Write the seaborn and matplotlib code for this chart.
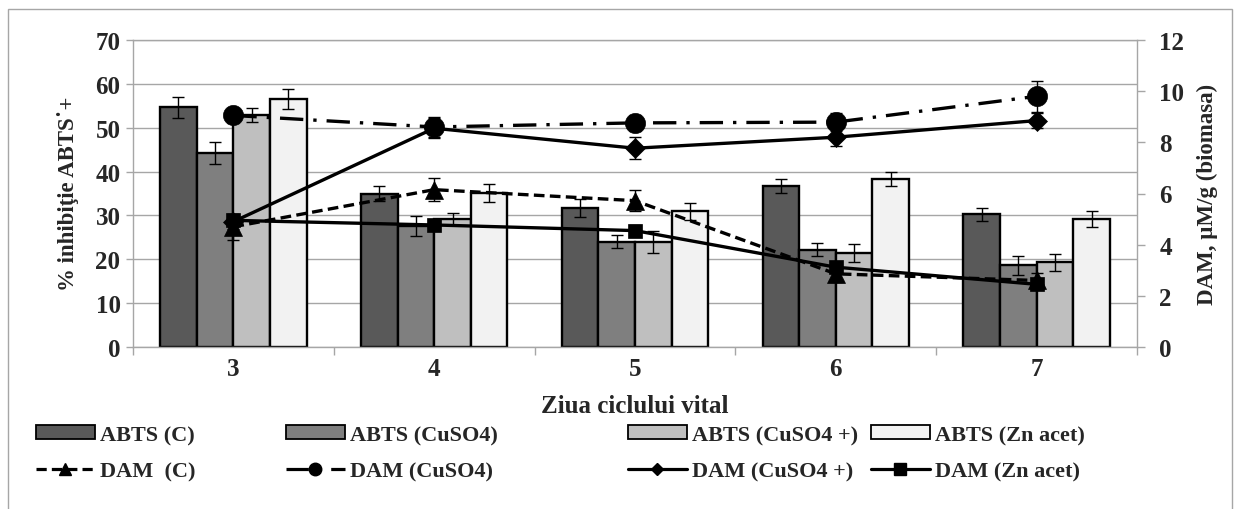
import numpy as np
import pandas as pd
import matplotlib
matplotlib.use("Agg")
import matplotlib.pyplot as plt
import seaborn as sns
from matplotlib.patches import Patch, Rectangle
from matplotlib.lines import Line2D

# ---- data -------------------------------------------------------------
days = ["3", "4", "5", "6", "7"]

abts_labels = ["ABTS (C)", "ABTS (CuSO4)", "ABTS (CuSO4 +)", "ABTS (Zn acet)"]
abts_c = [54.7, 34.9, 31.7, 36.8, 30.3]
abts_cuso4 = [44.2, 27.5, 24.0, 22.2, 18.6]
abts_cuso4p = [52.9, 29.2, 24.0, 21.4, 19.3]
abts_zn = [56.5, 35.1, 30.9, 38.3, 29.2]
abts_c_err = [2.4, 1.7, 2.1, 1.6, 1.5]
abts_cuso4_err = [2.5, 2.3, 1.5, 1.4, 2.1]
abts_cuso4p_err = [1.7, 1.3, 2.5, 2.0, 2.0]
abts_zn_err = [2.3, 2.1, 2.0, 1.7, 1.8]

dam_labels = ["DAM  (C)", "DAM (CuSO4)", "DAM (CuSO4 +)", "DAM (Zn acet)"]
dam_c = [4.7, 6.15, 5.72, 2.86, 2.6]
dam_cuso4 = [9.05, 8.6, 8.76, 8.79, 9.8]
dam_cuso4p = [4.9, 8.55, 7.77, 8.2, 8.85]
dam_zn = [4.95, 4.77, 4.55, 3.12, 2.45]
dam_c_err = [0.5, 0.45, 0.4, 0.3, 0.3]
dam_cuso4_err = [0.3, 0.4, 0.3, 0.35, 0.6]
dam_cuso4p_err = [0.3, 0.4, 0.44, 0.35, 0.3]
dam_zn_err = [0.2, 0.2, 0.2, 0.2, 0.2]

# ---- styling ----------------------------------------------------------
sns.set_theme(style="white")
SERIF = ["Liberation Serif", "DejaVu Serif"]
plt.rcParams["font.family"] = SERIF
plt.rcParams["font.weight"] = "bold"
TICK_FS = 18
LABEL_FS = 16.5
LEG_FS = 16
GRID = "#a6a6a6"

bar_colors = ["#595959", "#7f7f7f", "#bfbfbf", "#f2f2f2"]
line_styles = [(0, (3.2, 1.6)), (0, (7, 3, 1, 3)), "-", "-"]
line_markers = ["^", "o", "D", "s"]
line_msize = [13.5, 14.5, 10.5, 10]
legend_msize = [9, 9, 6.5, 9]

abts_vals = [abts_c, abts_cuso4, abts_cuso4p, abts_zn]
abts_errs = [abts_c_err, abts_cuso4_err, abts_cuso4p_err, abts_zn_err]
dam_vals = [dam_c, dam_cuso4, dam_cuso4p, dam_zn]
dam_errs = [dam_c_err, dam_cuso4_err, dam_cuso4p_err, dam_zn_err]

df = pd.DataFrame({
    "day": np.tile(days, len(abts_labels)),
    "series": np.repeat(abts_labels, len(days)),
    "value": np.concatenate(abts_vals),
})

fig = plt.figure(figsize=(12.35, 5.10), dpi=100)
ax = fig.add_axes([133 / 1235, 1 - 348 / 510, (1137 - 133) / 1235, (348 - 41) / 510])

# outer chart frame
fig.patches.append(Rectangle((8 / 1235, -0.2), (1232 - 8) / 1235, 1.2 - 10 / 510,
                             transform=fig.transFigure, fill=False,
                             edgecolor=GRID, linewidth=1.0, zorder=0))

sns.barplot(data=df, x="day", y="value", hue="series", order=days,
            hue_order=abts_labels, palette=bar_colors, saturation=1,
            width=0.73, edgecolor="black", linewidth=1.7, errorbar=None,
            legend=False, ax=ax)

for cont, err in zip(ax.containers, abts_errs):
    xs = [p.get_x() + p.get_width() / 2 for p in cont]
    ys = [p.get_height() for p in cont]
    ax.errorbar(xs, ys, yerr=err, fmt="none", ecolor="black",
                elinewidth=1.0, capsize=4.5, capthick=1.0, zorder=5)

ax.set_ylim(0, 70)
ax.set_yticks(np.arange(0, 71, 10))
ax.set_xlim(-0.5, len(days) - 0.5)
ax.set_axisbelow(True)
ax.yaxis.grid(True, color=GRID, linewidth=1.0)
for side in ["left", "bottom", "top", "right"]:
    ax.spines[side].set_color(GRID)
    ax.spines[side].set_linewidth(1.0)
ax.tick_params(axis="y", which="major", length=5, width=1, color=GRID,
               pad=4, labelsize=TICK_FS, left=True)
ax.set_xticks(np.arange(-0.5, len(days), 1.0), minor=True)
ax.tick_params(axis="x", which="minor", length=6, width=1, color=GRID, bottom=True)
ax.tick_params(axis="x", which="major", length=0, pad=7, labelsize=TICK_FS)
for lab in ax.get_xticklabels() + ax.get_yticklabels():
    lab.set_fontweight("bold")
    lab.set_fontfamily(SERIF)

ax.set_xlabel("Ziua ciclului vital", fontsize=TICK_FS, fontweight="bold", labelpad=10)
ax.set_ylabel("% inhibiţie ABTS˙+", fontsize=LABEL_FS, fontweight="bold")
ax.yaxis.set_label_coords(-0.0647, 0.503)
ax.yaxis.label.set_va("center")

# ---- DAM lines on the secondary axis ----------------------------------
ax2 = ax.twinx()
xpos = np.arange(len(days))
for vals, errs, ls, mk, ms in zip(dam_vals, dam_errs, line_styles,
                                  line_markers, line_msize):
    ax2.errorbar(xpos, vals, yerr=errs, fmt="none", ecolor="black",
                 elinewidth=1.0, capsize=4.5, capthick=1.0, zorder=3)
    sns.lineplot(x=xpos, y=vals, ax=ax2, color="black", linewidth=2.4,
                 linestyle=ls, marker=mk, markersize=ms,
                 markeredgecolor="black", markeredgewidth=0.5, zorder=4)

ax2.set_ylim(0, 12)
ax2.set_yticks(np.arange(0, 13, 2))
ax2.set_xlim(-0.5, len(days) - 0.5)
ax2.grid(False)
for side in ["left", "bottom", "top", "right"]:
    ax2.spines[side].set_visible(False)
ax2.tick_params(axis="y", length=6, width=1, color=GRID, pad=10,
                labelsize=TICK_FS, right=True)
for lab in ax2.get_yticklabels():
    lab.set_fontweight("bold")
    lab.set_fontfamily(SERIF)
ax2.set_xlabel("")
ax2.set_ylabel("DAM, µM/g (biomasa)", fontsize=LABEL_FS, fontweight="bold", rotation=90)
ax2.yaxis.set_label_coords(1.0697, 0.5)
ax2.yaxis.label.set_va("center")
ax2.yaxis.label.set_ha("center")

# ---- legend: four columns of (bar, line) ------------------------------
col_x = [36, 286, 628, 871]
for i in range(4):
    handles = [
        Patch(facecolor=bar_colors[i], edgecolor="black", linewidth=1.3),
        Line2D([], [], color="black", linewidth=2.3, linestyle=line_styles[i],
               marker=line_markers[i], markersize=legend_msize[i],
               markeredgecolor="black"),
    ]
    leg = fig.legend(handles, [abts_labels[i], dam_labels[i]],
                     loc="upper left",
                     bbox_to_anchor=(col_x[i] / 1235, 1 - 426 / 510),
                     frameon=False, borderpad=0, borderaxespad=0,
                     handlelength=2.65, handleheight=0.55, handletextpad=0.25,
                     labelspacing=0.75, fontsize=LEG_FS)
    for t in leg.get_texts():
        t.set_fontfamily(SERIF)
        t.set_fontweight("bold")
        t.set_fontsize(LEG_FS)

fig.savefig("out.png", dpi=100)
